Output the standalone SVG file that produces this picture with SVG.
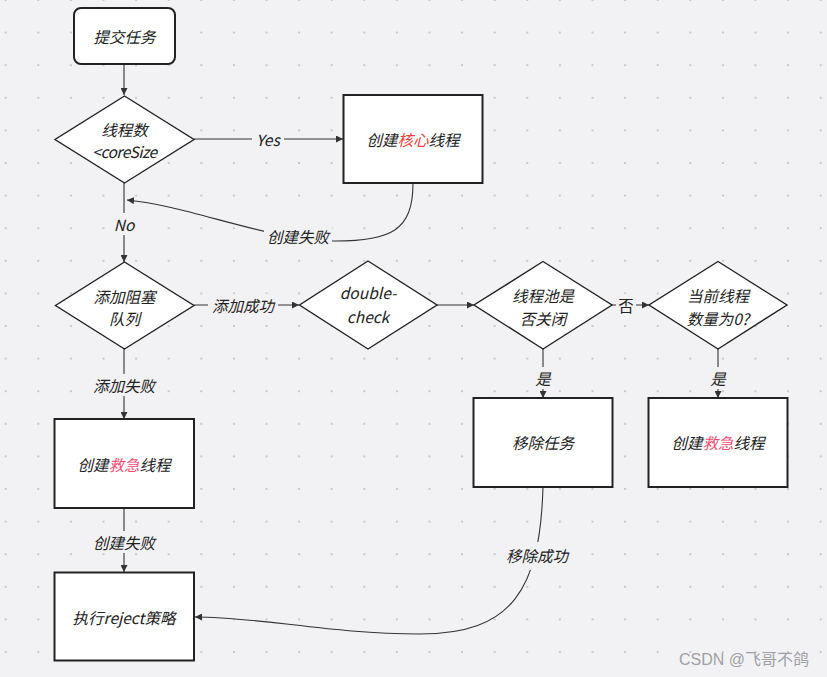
<svg xmlns="http://www.w3.org/2000/svg" width="827" height="677" viewBox="0 0 827 677">
<defs>
<pattern id="dots" patternUnits="userSpaceOnUse" x="4.7" y="-1" width="32.6" height="32.6">
<rect x="0" y="0" width="2" height="2" fill="#c9c9cd"/>
</pattern>
<marker id="arr" viewBox="0 0 10 10" refX="10" refY="5" markerWidth="7" markerHeight="7" markerUnits="userSpaceOnUse" orient="auto">
<path d="M0,0 L10,5 L0,10 z" fill="#333"/>
</marker>
<style>
.node{fill:#fff;stroke:#222;stroke-width:2}
.dia{fill:#fff;stroke:#222;stroke-width:1.4}
.edge{fill:none;stroke:#333;stroke-width:1.1}
text{font-family:"Noto Sans CJK SC","Noto Sans",sans-serif;font-size:15.5px;fill:#222;text-anchor:middle;dominant-baseline:central;font-style:italic}
.lb{fill:#f2f2f4}
.red{fill:#ef4136}
.pink{fill:#fb4a72}
</style>
</defs>
<rect width="827" height="677" fill="#f2f2f4"/>
<rect width="827" height="677" fill="url(#dots)"/>

<g id="connectors">
<path class="edge" d="M124,64 V95" marker-end="url(#arr)"/>
<path class="edge" d="M194,139 H343" marker-end="url(#arr)"/>
<path class="edge" d="M413,183 C413,230 392,242 330,241 C260,238 190,206 127,200" marker-end="url(#arr)"/>
<path class="edge" d="M124,183 V262" marker-end="url(#arr)"/>
<path class="edge" d="M194,305 H299" marker-end="url(#arr)"/>
<path class="edge" d="M437,305 H474" marker-end="url(#arr)"/>
<path class="edge" d="M612,305 H649" marker-end="url(#arr)"/>
<path class="edge" d="M543,349 V398" marker-end="url(#arr)"/>
<path class="edge" d="M718,349 V398" marker-end="url(#arr)"/>
<path class="edge" d="M124,349 V419" marker-end="url(#arr)"/>
<path class="edge" d="M124,508 V572" marker-end="url(#arr)"/>
<path class="edge" d="M543,487 C540,590 512,634 420,634 C330,634 262,617 195,617" marker-end="url(#arr)"/>
<rect class="lb" x="252" y="128" width="32" height="22"/>
<text x="268" y="139">Yes</text>
<rect class="lb" x="264" y="224" width="68" height="24"/>
<text x="298" y="236">创建失败</text>
<rect class="lb" x="110" y="213" width="28" height="22"/>
<text x="124" y="224">No</text>
<rect class="lb" x="208" y="294" width="70" height="22"/>
<text x="243" y="305">添加成功</text>
<rect class="lb" x="616" y="294" width="20" height="22"/>
<text x="626" y="305" style="font-style:normal">否</text>
<rect class="lb" x="532" y="367" width="22" height="22"/>
<text x="543" y="378">是</text>
<rect class="lb" x="707" y="367" width="22" height="22"/>
<text x="718" y="378">是</text>
<rect class="lb" x="90" y="374" width="68" height="22"/>
<text x="124" y="385">添加失败</text>
<rect class="lb" x="90" y="531" width="68" height="22"/>
<text x="124" y="542">创建失败</text>
<rect class="lb" x="503" y="542" width="68" height="28"/>
<text x="537" y="555">移除成功</text>
</g>

<g id="submit">
<rect class="node" x="74" y="8" width="101" height="56" rx="7"/>
<text x="124.5" y="36">提交任务</text>
</g>
<g id="coreCheck">
<polygon class="dia" points="124.5,96 194,139.5 124.5,183 55,139.5"/>
<text x="124.5" y="129">线程数</text>
<text x="124.5" y="151" style="letter-spacing:-0.5px">&lt;coreSize</text>
</g>
<g id="createCore">
<rect class="node" x="343.5" y="95" width="139" height="88"/>
<text x="413" y="139">创建<tspan class="red">核心</tspan>线程</text>
</g>
<g id="addQueue">
<polygon class="dia" points="124.5,262 194,305.5 124.5,349 55.5,305.5"/>
<text x="124.5" y="296">添加阻塞</text>
<text x="124.5" y="318">队列</text>
</g>
<g id="doubleCheck">
<polygon class="dia" points="368,261 437,305 368,349 299.5,305"/>
<text x="368" y="292">double-</text>
<text x="368" y="316">check</text>
</g>
<g id="poolClosed">
<polygon class="dia" points="543,261.5 612,305 543,349 474,305"/>
<text x="543" y="295">线程池是</text>
<text x="543" y="318">否关闭</text>
</g>
<g id="zeroThreads">
<polygon class="dia" points="718,261.5 787,305 718,349 649,305"/>
<text x="718" y="295">当前线程</text>
<text x="718" y="318">数量为0?</text>
</g>
<g id="removeTask">
<rect class="node" x="473.5" y="398" width="139" height="89"/>
<text x="543" y="442">移除任务</text>
</g>
<g id="createEmergencyRight">
<rect class="node" x="648.5" y="398" width="139" height="89"/>
<text x="718" y="442">创建<tspan class="pink">救急</tspan>线程</text>
</g>
<g id="createEmergencyLeft">
<rect class="node" x="54.5" y="419" width="139.5" height="89"/>
<text x="124" y="464">创建<tspan class="pink">救急</tspan>线程</text>
</g>
<g id="reject">
<rect class="node" x="54.5" y="572.5" width="139.5" height="88"/>
<text x="124" y="617">执行reject策略</text>
</g>
<text x="744" y="659" style="font-style:normal;font-size:16px;fill:#a0a0a4;font-family:'Liberation Sans','Noto Sans CJK SC',sans-serif">CSDN @飞哥不鸽</text>
</svg>
